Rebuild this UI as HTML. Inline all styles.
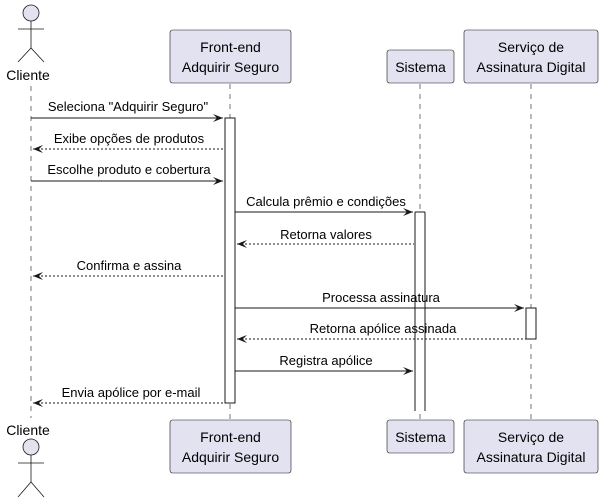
<!DOCTYPE html>
<html><head><meta charset="utf-8"><style>
html,body{margin:0;padding:0;background:#fff;}
svg{display:block;}
text{font-family:"Liberation Sans","DejaVu Sans",sans-serif;font-size:13px;fill:#000;}
.box{fill:#E2E2F0;stroke:#181818;stroke-width:0.6;}
.life{stroke:#181818;stroke-width:0.6;stroke-dasharray:5,5;}
.act{fill:#fff;stroke:#181818;stroke-width:1;}
.msg{stroke:#181818;stroke-width:1;}
.dash{stroke:#181818;stroke-width:1;stroke-dasharray:2,2;}
.ah{fill:#181818;}
</style></head><body>
<svg width="603" height="503" viewBox="0 0 603 503" xmlns="http://www.w3.org/2000/svg">
<!-- lifelines -->
<line class="life" x1="31" y1="86" x2="31" y2="418"/>
<line class="life" x1="230" y1="84" x2="230" y2="420"/>
<line class="life" x1="420" y1="84" x2="420" y2="420"/>
<line class="life" x1="531" y1="84" x2="531" y2="420"/>

<!-- top actor -->
<circle cx="31" cy="13" r="8" fill="#E2E2F0" stroke="#181818" stroke-width="0.8"/>
<line x1="31" y1="21" x2="31" y2="48" stroke="#181818" stroke-width="0.8"/>
<line x1="18" y1="29" x2="44" y2="29" stroke="#181818" stroke-width="0.8"/>
<polyline points="18,62 31,48 44,62" fill="none" stroke="#181818" stroke-width="0.8"/>
<text x="28" y="80" text-anchor="middle" style="font-size:14px">Cliente</text>

<!-- top boxes -->
<rect class="box" x="170" y="30" width="121" height="53" rx="2.5"/>
<text x="230.5" y="52" text-anchor="middle" style="font-size:14px">Front-end</text>
<text x="230.5" y="72" text-anchor="middle" style="font-size:14px">Adquirir Seguro</text>
<rect class="box" x="387" y="50" width="67" height="33" rx="2.5"/>
<text x="420.5" y="72" text-anchor="middle" style="font-size:14px">Sistema</text>
<rect class="box" x="464" y="30" width="134" height="53" rx="2.5"/>
<text x="531" y="52" text-anchor="middle" style="font-size:14px">Serviço de</text>
<text x="531" y="72" text-anchor="middle" style="font-size:14px">Assinatura Digital</text>

<!-- activations -->
<rect class="act" x="225" y="118" width="10" height="285"/>
<path d="M415,212 V411 M425,212 V411 M415,212 H425" fill="#fff" stroke="#181818" stroke-width="1"/>
<rect x="415.5" y="212.5" width="9" height="199" fill="#fff"/>
<rect class="act" x="526" y="308" width="10" height="31"/>

<!-- messages -->
<line class="msg" x1="31" y1="118" x2="223" y2="118"/>
<polygon class="ah" points="213,114 223,118 213,122 217,118"/>
<text x="128" y="111" text-anchor="middle">Seleciona "Adquirir Seguro"</text>

<line class="dash" x1="33" y1="149" x2="224" y2="149"/>
<polygon class="ah" points="43,145 33,149 43,153 39,149"/>
<text x="129" y="143" text-anchor="middle">Exibe opções de produtos</text>

<line class="msg" x1="31" y1="181" x2="223" y2="181"/>
<polygon class="ah" points="213,177 223,181 213,185 217,181"/>
<text x="129" y="174" text-anchor="middle">Escolhe produto e cobertura</text>

<line class="msg" x1="235" y1="212" x2="413" y2="212"/>
<polygon class="ah" points="403,208 413,212 403,216 407,212"/>
<text x="326" y="206" text-anchor="middle">Calcula prêmio e condições</text>

<line class="dash" x1="237" y1="244" x2="414" y2="244"/>
<polygon class="ah" points="247,240 237,244 247,248 243,244"/>
<text x="326" y="239" text-anchor="middle">Retorna valores</text>

<line class="dash" x1="33" y1="276" x2="224" y2="276"/>
<polygon class="ah" points="43,272 33,276 43,280 39,276"/>
<text x="129" y="270" text-anchor="middle">Confirma e assina</text>

<line class="msg" x1="235" y1="308" x2="524" y2="308"/>
<polygon class="ah" points="514,304 524,308 514,312 518,308"/>
<text x="381" y="302" text-anchor="middle">Processa assinatura</text>

<line class="dash" x1="237" y1="339" x2="526" y2="339"/>
<polygon class="ah" points="247,335 237,339 247,343 243,339"/>
<text x="383" y="333" text-anchor="middle">Retorna apólice assinada</text>

<line class="msg" x1="235" y1="371" x2="413" y2="371"/>
<polygon class="ah" points="403,367 413,371 403,375 407,371"/>
<text x="326" y="365" text-anchor="middle">Registra apólice</text>

<line class="dash" x1="33" y1="403" x2="224" y2="403"/>
<polygon class="ah" points="43,399 33,403 43,407 39,403"/>
<text x="131" y="397" text-anchor="middle">Envia apólice por e-mail</text>

<!-- bottom boxes -->
<rect class="box" x="170" y="420" width="121" height="53" rx="2.5"/>
<text x="230.5" y="442" text-anchor="middle" style="font-size:14px">Front-end</text>
<text x="230.5" y="462" text-anchor="middle" style="font-size:14px">Adquirir Seguro</text>
<rect class="box" x="387" y="420" width="67" height="33" rx="2.5"/>
<text x="420.5" y="442" text-anchor="middle" style="font-size:14px">Sistema</text>
<rect class="box" x="464" y="420" width="134" height="53" rx="2.5"/>
<text x="531" y="442" text-anchor="middle" style="font-size:14px">Serviço de</text>
<text x="531" y="462" text-anchor="middle" style="font-size:14px">Assinatura Digital</text>

<!-- bottom actor -->
<text x="28" y="435" text-anchor="middle" style="font-size:14px">Cliente</text>
<circle cx="31" cy="447" r="8" fill="#E2E2F0" stroke="#181818" stroke-width="0.8"/>
<line x1="31" y1="455" x2="31" y2="482" stroke="#181818" stroke-width="0.8"/>
<line x1="18" y1="463" x2="44" y2="463" stroke="#181818" stroke-width="0.8"/>
<polyline points="18,497 31,482 44,497" fill="none" stroke="#181818" stroke-width="0.8"/>
</svg>
</body></html>
